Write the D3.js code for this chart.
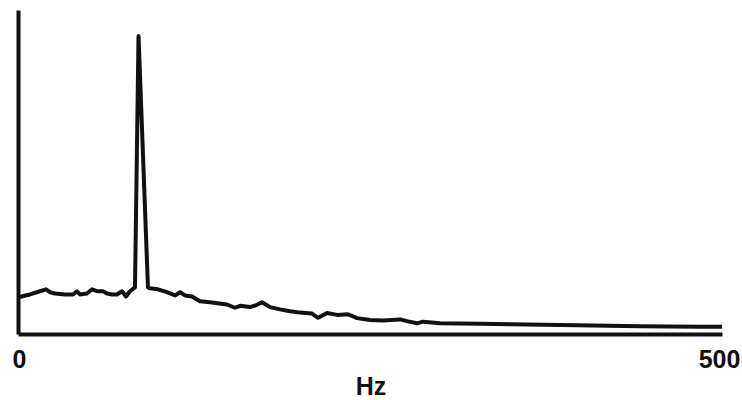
<!DOCTYPE html>
<html>
<head>
<meta charset="utf-8">
<script src="https://cdn.jsdelivr.net/npm/d3@7"></script>
<style>
  body { margin: 0; background: #fff; }
  svg { display: block; }
  text { font-family: "Liberation Sans", Arial, sans-serif; font-weight: bold; fill: #111; }
</style>
</head>
<body>
<svg id="chart"></svg>
<script>
// spectrum, frequency in Hz and relative amplitude
const freqs = [1, 8.5, 15.6, 19.9, 22.7, 26.3, 33.4, 39.1, 41.9, 44, 49, 52.6, 56.1, 60.4, 63.2, 66.8, 70.3, 73.9, 76.7, 79.5, 83.1,
  85.6,
  92.3, 93.8, 99.4, 105.8, 111.5, 115.1, 118.6, 123.6, 129.3, 136.4, 148.4, 154.1, 157.7, 164.8, 169.7, 173.3, 179, 186.1, 193.2,
  200.3, 208.8, 213.1, 219.5, 226.6, 234.4, 240.8, 250, 259.2, 271.3, 277, 283.4, 287.6, 299.7, 328.1, 349.4, 397, 441.8, 484.4, 500]
const amps = [11.4, 12.2, 13.2, 13.8, 12.9, 12.5, 12.2, 12.2, 13.2, 12.2, 12.5, 13.8, 13.2, 13.2, 12.5, 12.2, 12.2, 13.2, 11.6, 13.2, 14.4,
  92,
  14.4, 14.1, 13.8, 12.9, 11.9, 12.9, 11.9, 11.6, 10.1, 9.8, 9.1, 8.1, 8.7, 8.3, 9, 9.8, 8.3, 7.6, 7,
  6.6, 6.3, 5, 6.5, 5.9, 6.1, 4.9, 4.3, 4.2, 4.5, 3.9, 3.3, 3.8, 3.3, 3.2, 3, 2.7, 2.4, 2.2, 2.2]
const xTicks = [0, 500]
const xLabel = 'Hz'

const W = 742, H = 400
const margin = {top: 10, right: 20, bottom: 66, left: 18}

const svg = d3.select('#chart').attr('width', W).attr('height', H)

const x = d3.scaleLinear().domain([0, 500]).range([margin.left, W - margin.right])
const y = d3.scaleLinear().domain([0, 100]).range([H - margin.bottom, margin.top])

const data = freqs.map((f, i) => ({f: f, a: amps[i]}))

// axes: just the bare lines plus the two end labels
const gx = svg.append('g')
  .attr('transform', `translate(0,${y(0)})`)
  .call(d3.axisBottom(x).tickValues(xTicks).tickSize(0).tickSizeOuter(0).tickFormat(d3.format('d')))
gx.select('.domain').attr('stroke', '#111').attr('stroke-width', 4)
gx.selectAll('.tick text')
  .attr('y', 34).attr('dy', 0)
  .attr('font-size', 25)
  .attr('font-family', null)
  .attr('fill', '#111')
  .attr('dx', (d) => d === 500 ? -3 : 1)

const gy = svg.append('g')
  .attr('transform', `translate(${x(0)},0)`)
  .call(d3.axisLeft(y).tickValues([]).tickSizeOuter(0))
gy.select('.domain').attr('stroke', '#111').attr('stroke-width', 4)

svg.append('text')
  .attr('x', 371).attr('y', 395)
  .attr('text-anchor', 'middle')
  .attr('font-size', 25)
  .text(xLabel)

// the spectrum itself
const line = d3.line().x((d) => x(d.f)).y((d) => y(d.a))
svg.append('path')
  .datum(data)
  .attr('d', line)
  .attr('fill', 'none')
  .attr('stroke', '#111')
  .attr('stroke-width', 4)
  .attr('stroke-linejoin', 'round')
</script>
</body>
</html>
